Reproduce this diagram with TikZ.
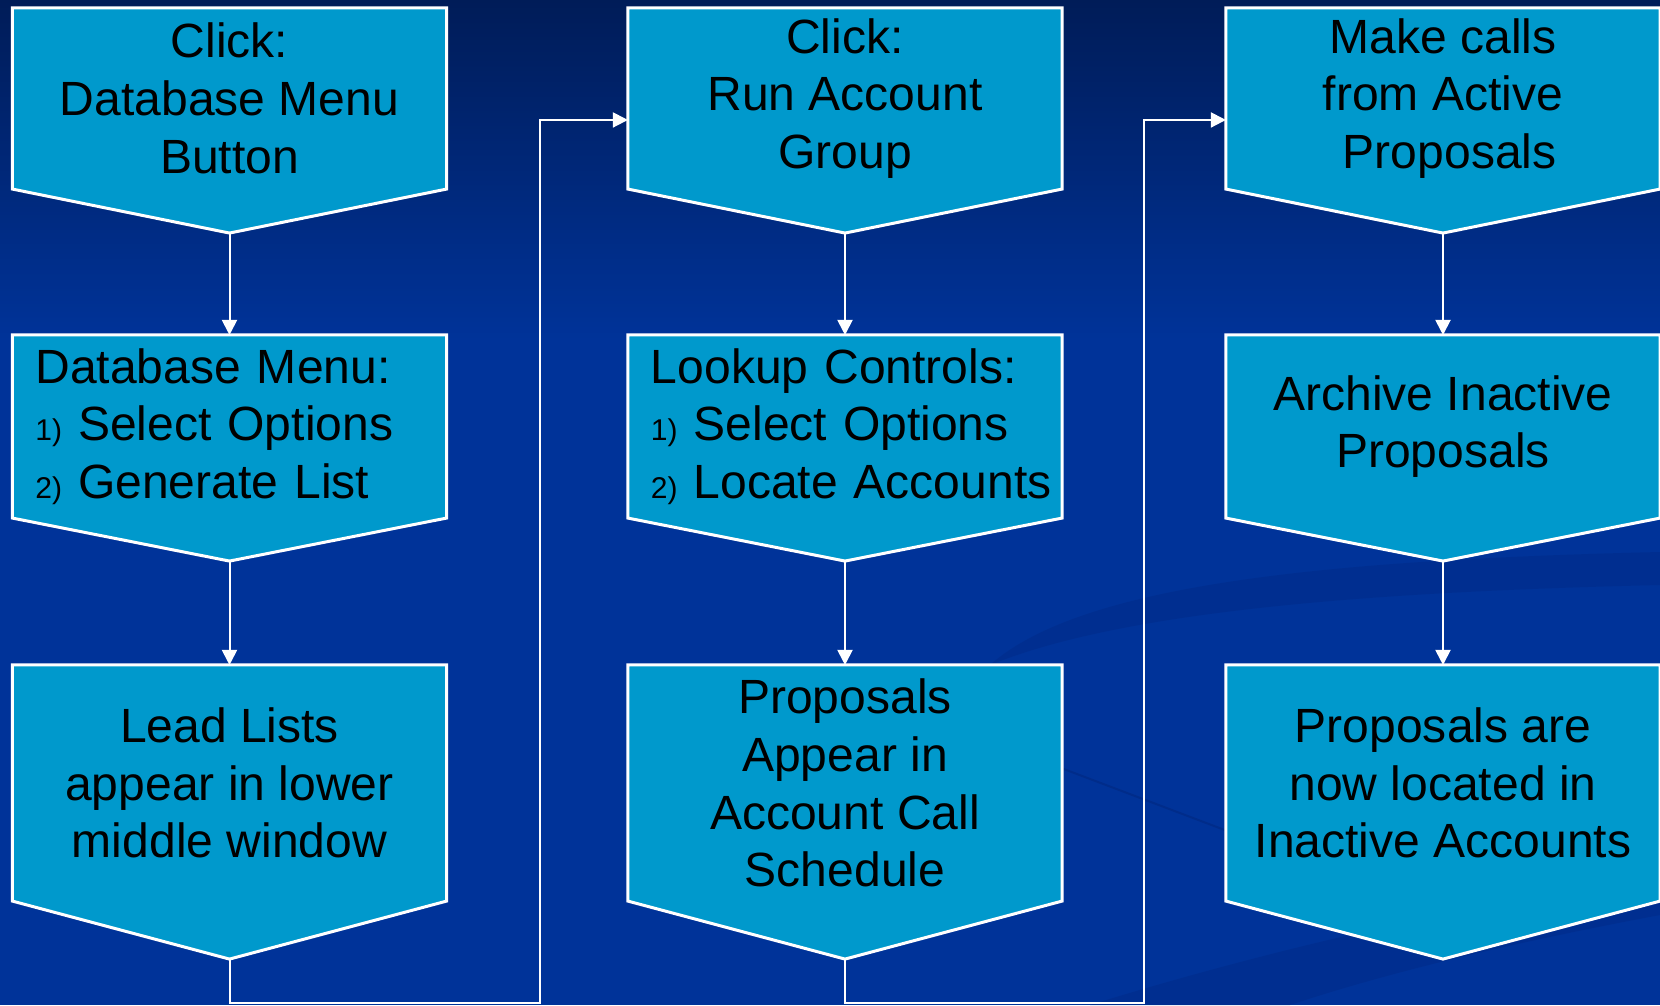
\documentclass[tikz,border=0pt]{standalone}
\usepackage{fontspec}
\setmainfont{Liberation Sans}
\usetikzlibrary{arrows.meta,calc}
\pgfdeclarelayer{background}
\pgfsetlayers{background,main}
\definecolor{bgtop}{RGB}{0,28,88}
\definecolor{bgmain}{RGB}{0,51,153}
\definecolor{swirl}{RGB}{0,44,138}
\definecolor{boxblue}{RGB}{0,153,204}
\newcommand{\flowfont}{\fontsize{13.66}{16.42}\selectfont}
\newcommand{\numfont}{\fontsize{8.54}{10}\selectfont}
\newcommand{\listno}[1]{\hspace*{0.21cm}{\numfont #1)} }

\begin{document}
\begin{tikzpicture}[x=0.01cm,y=-0.01cm,every path/.append style={line width=0.02cm},
  flowbox/.style={rectangle,inner sep=0pt,minimum width=4.32cm,align=center,font=\flowfont,text=black},
  listbox/.style={flowbox,align=left,text width=4.3cm},
  boxshape/.style={fill=boxblue,draw=white,line width=0.03cm},
  link/.style={draw=white,-{Triangle[length=0.15cm,width=0.15cm]}}]
\useasboundingbox (0,0) rectangle (1660,1005);

% first column
\node[flowbox,minimum height=1.79cm] (b1) at (229.5,98.5) {Click:\\Database Menu\\Button};
\node[listbox,minimum height=1.81cm] (b2) at (229.5,426.5) {\hspace*{0.21cm}Database Menu:\\\listno{1}Select Options\\\listno{2}Generate List};
\node[flowbox,minimum height=2.34cm] (b3) at (229.5,783) {Lead Lists\\appear in lower\\middle window};
% second column
\node[flowbox,minimum height=1.79cm] (b4) at (845,98.5) {Click:\\Run Account\\Group};
\node[listbox,minimum height=1.81cm] (b5) at (845,426.5) {\hspace*{0.21cm}Lookup Controls:\\\listno{1}Select Options\\\listno{2}Locate Accounts};
\node[flowbox,minimum height=2.34cm] (b6) at (845,783) {Proposals\\Appear in\\Account Call\\Schedule};
% third column
\node[flowbox,minimum height=1.79cm] (b7) at (1443,98.5) {Make calls\\from Active\\\hspace*{0.28em}Proposals};
\node[flowbox,minimum height=1.81cm] (b8) at (1443,426.5) {Archive Inactive\\Proposals};
\node[flowbox,minimum height=2.34cm] (b9) at (1443,783) {Proposals are\\now located in\\Inactive Accounts};

\coordinate (turn1) at (540,1003);
\coordinate (turn2) at (1144,1003);
\coordinate (in4) at ($(b4.north west)+(0,112)$);
\coordinate (in7) at ($(b7.north west)+(0,112)$);

\begin{pgfonlayer}{background}
\shade[top color=bgtop,bottom color=bgmain] (0,0) rectangle (1660,340);
\fill[bgmain] (0,339) rectangle (1660,1005);
\fill[swirl,opacity=.6] (990,665) .. controls (1080,585) and (1320,560) .. (1660,552) -- (1660,585) .. controls (1360,592) and (1120,612) .. (990,665) -- cycle;
\fill[swirl,opacity=.6] (1090,1005) .. controls (1300,940) and (1500,900) .. (1660,875) -- (1660,915) .. controls (1500,945) and (1380,975) .. (1290,1005) -- cycle;
\draw[swirl] (1040,760) -- (1230,832);
\foreach \n/\d in {b1/44,b2/43,b3/58,b4/44,b5/43,b6/58,b7/44,b8/43,b9/58} {
  \coordinate (\n-tip) at ($(\n.south)+(0,\d)$);
  \filldraw[boxshape] (\n.north west) -- (\n.north east) -- (\n.south east) -- (\n-tip) -- (\n.south west) -- cycle;
}
\end{pgfonlayer}

\draw[link] (b1-tip) -- (b2.north);
\draw[link] (b2-tip) -- (b3.north);
\draw[link] (b4-tip) -- (b5.north);
\draw[link] (b5-tip) -- (b6.north);
\draw[link] (b7-tip) -- (b8.north);
\draw[link] (b8-tip) -- (b9.north);
\draw[link] (b3-tip) |- (turn1) |- (in4);
\draw[link] (b6-tip) |- (turn2) |- (in7);
\end{tikzpicture}
\end{document}
